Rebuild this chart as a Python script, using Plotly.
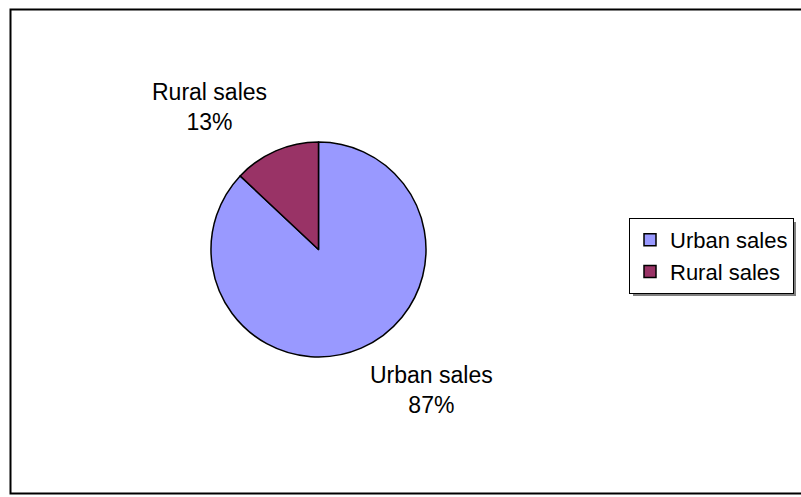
import plotly.graph_objects as go

labels = ["Urban sales", "Rural sales"]
values = [87, 13]
colors = ["#9999FF", "#993366"]

W, H = 801, 497
total = sum(values)
pcts = [round(v / total * 100) for v in values]

cx, cy, r = 318.5, 249.5, 107.5

fig = go.Figure(go.Pie(
    labels=labels, values=values, sort=False, direction="clockwise", rotation=0,
    marker=dict(colors=colors, line=dict(color="black", width=1.5)),
    textinfo="none", hoverinfo="label+percent",
    domain=dict(x=[(cx - r) / W, (cx + r) / W], y=[1 - (cy + r) / H, 1 - (cy - r) / H]),
))

font = dict(family="Liberation Sans, Arial, sans-serif", size=23, color="black")
legend_font = dict(family="Liberation Sans, Arial, sans-serif", size=22, color="black")
label_pos = [(431, 390), (210, 107)]
annotations = []
for lab, p, (x, y) in zip(labels, pcts, label_pos):
    annotations.append(dict(
        x=x / W, y=1 - y / H, xref="paper", yref="paper", showarrow=False,
        text=f"{lab}<br>{p}%", font=font, align="center", xanchor="center", yanchor="middle",
    ))

lg_top = 218
shapes = [
    dict(type="rect", xref="paper", yref="paper", x0=10.5 / W, x1=1.01, y0=1 - 493.5 / H, y1=1 - 9.5 / H,
         line=dict(color="black", width=2), fillcolor="rgba(0,0,0,0)", layer="below"),
    dict(type="rect", xref="paper", yref="paper", x0=633 / W, x1=796 / W, y0=1 - 296 / H, y1=1 - (lg_top + 4) / H,
         line=dict(width=0), fillcolor="#808080", layer="below"),
]

fig.update_layout(
    width=W, height=H, autosize=False,
    margin=dict(l=0, r=0, t=0, b=0),
    paper_bgcolor="white", plot_bgcolor="white",
    showlegend=True,
    legend=dict(x=629 / W, y=1 - lg_top / H, xanchor="left", yanchor="top",
                bordercolor="black", borderwidth=1, bgcolor="white",
                font=legend_font, tracegroupgap=0, itemwidth=30),
    annotations=annotations, shapes=shapes,
    font=font,
)

fig.write_html("out.html")
